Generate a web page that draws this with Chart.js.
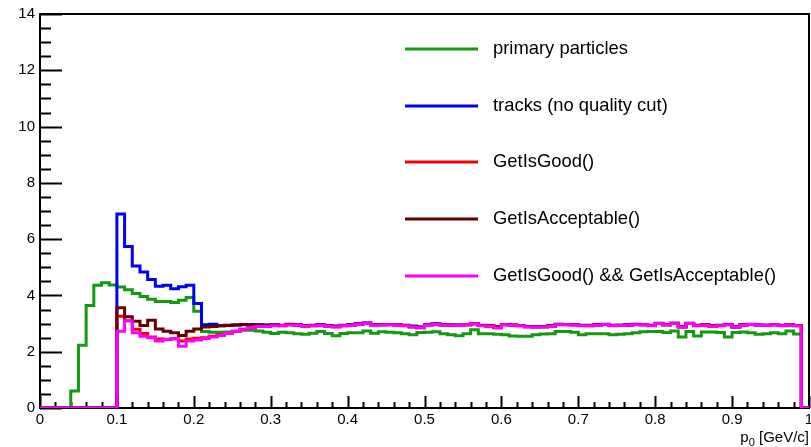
<!DOCTYPE html>
<html>
<head>
<meta charset="utf-8">
<script src="https://cdn.jsdelivr.net/npm/chart.js@4/dist/chart.umd.min.js"></script>
<style>
  html, body { margin: 0; padding: 0; background: #fff; }
  canvas { display: block; }
</style>
</head>
<body>
<canvas id="momentumChart" width="811" height="447"></canvas>
<script>
// histogram binning: 100 bins over [0, 1]
var binLow = 0;
var binWidth = 0.01;

var xTicks = [0, 0.1, 0.2, 0.3, 0.4, 0.5, 0.6, 0.7, 0.8, 0.9, 1];
var xTickLabels = ["0", "0.1", "0.2", "0.3", "0.4", "0.5", "0.6", "0.7", "0.8", "0.9", "1"];
var yTicks = [0, 2, 4, 6, 8, 10, 12, 14];

var seriesNames = ["primary particles", "tracks (no quality cut)", "GetIsGood()",
                   "GetIsAcceptable()", "GetIsGood() && GetIsAcceptable()"];

var primary = [
  0, 0, 0, 0, 0.6, 2.23, 3.64, 4.36, 4.45, 4.37,
  4.3, 4.2, 4.07, 3.96, 3.86, 3.78, 3.78, 3.75, 3.83, 3.93,
  3.44, 2.72, 2.69, 2.69, 2.7, 2.72, 2.76, 2.76, 2.74, 2.69,
  2.65, 2.69, 2.67, 2.64, 2.62, 2.66, 2.72, 2.65, 2.57, 2.65,
  2.67, 2.67, 2.74, 2.66, 2.71, 2.69, 2.67, 2.64, 2.6, 2.68,
  2.69, 2.71, 2.64, 2.6, 2.57, 2.64, 2.78, 2.64, 2.64, 2.62,
  2.6, 2.56, 2.55, 2.55, 2.6, 2.63, 2.64, 2.72, 2.72, 2.69,
  2.6, 2.64, 2.64, 2.64, 2.6, 2.62, 2.64, 2.67, 2.71, 2.72,
  2.72, 2.68, 2.74, 2.52, 2.72, 2.56, 2.7, 2.7, 2.68, 2.52,
  2.68, 2.7, 2.67, 2.62, 2.64, 2.67, 2.64, 2.74, 2.63, 0
];

var tracks = [
  0, 0, 0, 0, 0, 0, 0, 0, 0, 0,
  6.89, 5.74, 5.05, 4.83, 4.57, 4.33, 4.36, 4.24, 4.31, 4.36,
  3.71, 2.96, 2.98, 2.92, 2.94, 2.95, 2.97, 2.97, 2.96, 2.95,
  2.96, 2.94, 2.98, 2.96, 2.93, 2.94, 2.96, 2.93, 2.91, 2.94,
  2.96, 2.99, 3.02, 2.97, 2.97, 2.97, 2.96, 2.94, 2.91, 2.88,
  2.97, 2.99, 2.96, 2.95, 2.95, 2.97, 3.0, 2.94, 2.92, 2.89,
  2.97, 2.95, 2.93, 2.9, 2.9, 2.9, 2.92, 2.98, 2.97, 2.97,
  2.94, 2.94, 2.96, 2.98, 2.94, 2.94, 2.96, 2.98, 2.97, 2.94,
  3.01, 2.97, 3.01, 2.9, 3.01, 2.94, 2.96, 2.92, 2.94, 2.97,
  2.89, 2.96, 2.98, 2.95, 2.94, 2.97, 2.94, 2.96, 2.93, 0
];

var isGood = [
  0, 0, 0, 0, 0, 0, 0, 0, 0, 0,
  3.26, 3.1, 2.8, 2.65, 2.52, 2.45, 2.43, 2.46, 2.38, 2.45,
  2.48, 2.5, 2.55, 2.6, 2.66, 2.72, 2.8, 2.85, 2.9, 2.91,
  2.93, 2.92, 2.96, 2.95, 2.91, 2.92, 2.94, 2.91, 2.89, 2.92,
  2.94, 2.98, 3.01, 2.95, 2.96, 2.96, 2.95, 2.93, 2.88, 2.86,
  2.95, 2.98, 2.95, 2.94, 2.94, 2.96, 2.99, 2.93, 2.91, 2.88,
  2.96, 2.94, 2.92, 2.89, 2.88, 2.89, 2.9, 2.97, 2.96, 2.96,
  2.93, 2.92, 2.95, 2.97, 2.93, 2.93, 2.94, 2.97, 2.96, 2.93,
  3.0, 2.96, 3.0, 2.88, 3.0, 2.93, 2.95, 2.91, 2.93, 2.96,
  2.88, 2.95, 2.97, 2.94, 2.93, 2.96, 2.93, 2.95, 2.92, 0
];

var isAcceptable = [
  0, 0, 0, 0, 0, 0, 0, 0, 0, 0,
  3.56, 3.24, 3.08, 2.93, 3.12, 2.81, 2.73, 2.67, 2.58, 2.73,
  2.81, 2.88, 2.9, 2.92, 2.93, 2.95, 2.96, 2.96, 2.95, 2.94,
  2.95, 2.93, 2.97, 2.96, 2.92, 2.93, 2.95, 2.92, 2.9, 2.93,
  2.95, 2.99, 3.01, 2.96, 2.96, 2.97, 2.96, 2.93, 2.9, 2.87,
  2.96, 2.98, 2.96, 2.95, 2.94, 2.96, 2.99, 2.93, 2.91, 2.88,
  2.97, 2.94, 2.93, 2.9, 2.89, 2.89, 2.91, 2.97, 2.97, 2.96,
  2.93, 2.93, 2.95, 2.97, 2.93, 2.94, 2.95, 2.97, 2.96, 2.93,
  3.0, 2.96, 3.01, 2.89, 3.0, 2.93, 2.95, 2.91, 2.93, 2.97,
  2.88, 2.96, 2.97, 2.94, 2.94, 2.96, 2.93, 2.96, 2.93, 0
];

var goodAndAcceptable = [
  0, 0, 0, 0, 0, 0, 0, 0, 0, 0,
  2.73, 3.1, 2.67, 2.55, 2.5, 2.38, 2.44, 2.46, 2.19, 2.38,
  2.42, 2.47, 2.52, 2.58, 2.66, 2.74, 2.8, 2.85, 2.9, 2.9,
  2.92, 2.92, 2.95, 2.95, 2.9, 2.92, 2.93, 2.9, 2.88, 2.92,
  2.93, 2.98, 3.0, 2.95, 2.95, 2.96, 2.95, 2.92, 2.88, 2.84,
  2.95, 2.97, 2.95, 2.94, 2.93, 2.96, 2.99, 2.92, 2.9, 2.84,
  2.96, 2.93, 2.92, 2.88, 2.88, 2.88, 2.9, 2.96, 2.96, 2.95,
  2.92, 2.92, 2.94, 2.97, 2.92, 2.93, 2.94, 2.96, 2.96, 2.92,
  3.0, 2.95, 3.0, 2.87, 3.0, 2.92, 2.94, 2.9, 2.92, 2.96,
  2.86, 2.95, 2.97, 2.93, 2.93, 2.96, 2.92, 2.95, 2.92, 0
];

var colors = ["#139a13", "#0000f5", "#f50000", "#660000", "#ff00ff"];

// turn bin contents into step points: one point per lower edge + closing edge
function toSteps(vals) {
  var pts = [];
  for (var i = 0; i < vals.length; i++) {
    pts.push({ x: binLow + i * binWidth, y: vals[i] });
  }
  pts.push({ x: binLow + vals.length * binWidth, y: vals[vals.length - 1] });
  return pts;
}

var allSeries = [primary, tracks, isGood, isAcceptable, goodAndAcceptable];
var datasets = [];
for (var s = 0; s < allSeries.length; s++) {
  datasets.push({
    label: seriesNames[s],
    data: toSteps(allSeries[s]),
    borderColor: colors[s],
    backgroundColor: colors[s],
    borderWidth: 3,
    stepped: true,
    pointRadius: 0,
    fill: false,
    borderJoinStyle: 'miter',
    order: allSeries.length - s   // last one on top
  });
}

var FONT = '"Liberation Sans", Arial, Helvetica, sans-serif';

// ROOT-like frame, inward ticks, labels and text legend
var rootFrame = {
  id: 'rootFrame',
  beforeDatasetsDraw: function(chart) {
    var ctx = chart.ctx, a = chart.chartArea;
    var xs = chart.scales.x, ys = chart.scales.y;
    ctx.save();
    ctx.strokeStyle = '#000';
    ctx.lineWidth = 2;
    ctx.strokeRect(a.left, a.top, a.right - a.left, a.bottom - a.top);

    ctx.beginPath();
    // y ticks every 0.5, major every 2
    for (var v = 0; v <= 14.001; v += 0.5) {
      var py = Math.round(ys.getPixelForValue(v)) + 0.5;
      var len = (Math.abs(v / 2 - Math.round(v / 2)) < 1e-6) ? 22 : 11;
      ctx.moveTo(a.left, py);
      ctx.lineTo(a.left + len, py);
    }
    // x ticks every 0.02, major every 0.1
    for (var k = 0; k <= 50; k++) {
      var px = Math.round(xs.getPixelForValue(k * 0.02)) + 0.5;
      var l = (k % 5 === 0) ? 12 : 6;
      ctx.moveTo(px, a.bottom);
      ctx.lineTo(px, a.bottom - l);
    }
    ctx.stroke();
    ctx.restore();
  },
  afterDraw: function(chart) {
    var ctx = chart.ctx, a = chart.chartArea;
    var xs = chart.scales.x, ys = chart.scales.y;
    ctx.save();
    ctx.fillStyle = '#000';
    ctx.font = '15px ' + FONT;

    ctx.textAlign = 'right';
    ctx.textBaseline = 'middle';
    yTicks.forEach(function(v) {
      ctx.fillText(String(v), a.left - 5, ys.getPixelForValue(v));
    });

    ctx.textAlign = 'center';
    ctx.textBaseline = 'top';
    xTicks.forEach(function(v, i) {
      ctx.fillText(xTickLabels[i], xs.getPixelForValue(v), a.bottom + 4);
    });

    // axis title p_0 [GeV/c]
    ctx.textAlign = 'right';
    ctx.textBaseline = 'alphabetic';
    var unit = ' [GeV/c]';
    var uw = ctx.measureText(unit).width;
    ctx.fillText(unit, a.right, 442);
    ctx.font = '11px ' + FONT;
    var sw = ctx.measureText('0').width;
    ctx.fillText('0', a.right - uw, 446);
    ctx.font = '15px ' + FONT;
    ctx.fillText('p', a.right - uw - sw, 442);

    // legend
    var rowsY = [49, 106, 162, 219, 276];
    ctx.font = '18.4px ' + FONT;
    ctx.textAlign = 'left';
    ctx.textBaseline = 'middle';
    for (var i = 0; i < seriesNames.length; i++) {
      ctx.strokeStyle = colors[i];
      ctx.lineWidth = 3;
      ctx.beginPath();
      ctx.moveTo(405, rowsY[i]);
      ctx.lineTo(478, rowsY[i]);
      ctx.stroke();
      ctx.fillText(seriesNames[i], 493, rowsY[i]);
    }
    ctx.restore();
  }
};

new Chart(document.getElementById('momentumChart'), {
  type: 'line',
  data: { datasets: datasets },
  options: {
    responsive: false,
    animation: false,
    layout: { padding: { left: 40, right: 2, top: 14, bottom: 39 } },
    plugins: {
      legend: { display: false },
      tooltip: { enabled: false }
    },
    scales: {
      x: { type: 'linear', min: 0, max: 1, display: false },
      y: { type: 'linear', min: 0, max: 14, display: false }
    }
  },
  plugins: [rootFrame]
});
</script>
</body>
</html>
